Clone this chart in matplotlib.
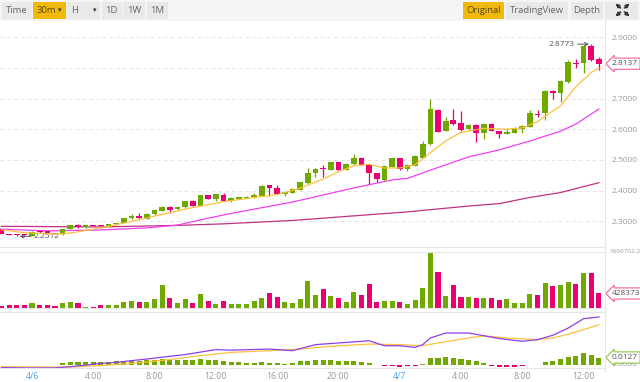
import numpy as np
import matplotlib.pyplot as plt
from matplotlib.patches import Rectangle
from matplotlib.lines import Line2D
from matplotlib.transforms import blended_transform_factory

plt.rcParams['font.family'] = ['Open Sans', 'DejaVu Sans']

W, H = 640, 382
GREEN = '#70a800'
PINK = '#ea0070'
GRAY_TXT = '#9a9a9a'
LINE = '#e6e6e6'

# 30m candles, 4/5 22:00 -> 4/7 13:00
opens = [2.274, 2.258, 2.257, 2.258, 2.254, 2.266, 2.269, 2.262, 2.258, 2.275,
         2.288, 2.281, 2.287, 2.286, 2.283, 2.290, 2.295, 2.310, 2.319, 2.309,
         2.323, 2.335, 2.348, 2.339, 2.346, 2.367, 2.351, 2.385, 2.373, 2.385,
         2.365, 2.373, 2.376, 2.378, 2.384, 2.418, 2.410, 2.389, 2.394, 2.402,
         2.424, 2.459, 2.471, 2.467, 2.492, 2.467, 2.486, 2.506, 2.484, 2.457,
         2.435, 2.478, 2.506, 2.470, 2.482, 2.508, 2.551, 2.663, 2.594, 2.630,
         2.620, 2.600, 2.614, 2.589, 2.617, 2.594, 2.585, 2.589, 2.600, 2.608,
         2.650, 2.652, 2.725, 2.719, 2.753, 2.816, 2.815, 2.871, 2.828]
closes = [2.260, 2.257, 2.256, 2.256, 2.266, 2.265, 2.262, 2.260, 2.275, 2.287,
          2.281, 2.287, 2.285, 2.284, 2.292, 2.294, 2.311, 2.319, 2.310, 2.325,
          2.337, 2.348, 2.337, 2.348, 2.366, 2.351, 2.385, 2.373, 2.388, 2.367,
          2.376, 2.378, 2.380, 2.386, 2.415, 2.408, 2.389, 2.397, 2.407, 2.427,
          2.457, 2.471, 2.470, 2.492, 2.467, 2.487, 2.507, 2.484, 2.457, 2.437,
          2.480, 2.506, 2.470, 2.484, 2.513, 2.551, 2.666, 2.592, 2.628, 2.616,
          2.598, 2.615, 2.589, 2.617, 2.595, 2.584, 2.592, 2.605, 2.611, 2.654,
          2.648, 2.725, 2.717, 2.758, 2.818, 2.814, 2.871, 2.826, 2.8137]
highs = [2.276, 2.259, 2.258, 2.259, 2.268, 2.268, 2.270, 2.263, 2.276, 2.289,
         2.291, 2.288, 2.289, 2.288, 2.293, 2.296, 2.312, 2.324, 2.326, 2.327,
         2.339, 2.350, 2.350, 2.350, 2.368, 2.369, 2.387, 2.387, 2.390, 2.392,
         2.380, 2.380, 2.382, 2.392, 2.417, 2.420, 2.418, 2.399, 2.409, 2.429,
         2.473, 2.473, 2.484, 2.494, 2.494, 2.489, 2.519, 2.511, 2.486, 2.459,
         2.482, 2.508, 2.508, 2.486, 2.515, 2.562, 2.698, 2.665, 2.639, 2.666,
         2.661, 2.618, 2.616, 2.619, 2.619, 2.596, 2.603, 2.607, 2.613, 2.663,
         2.663, 2.727, 2.727, 2.760, 2.826, 2.829, 2.873, 2.8773, 2.836]
lows = [2.258, 2.255, 2.2512, 2.254, 2.253, 2.263, 2.261, 2.258, 2.257, 2.274,
        2.280, 2.280, 2.284, 2.283, 2.282, 2.289, 2.294, 2.309, 2.309, 2.308,
        2.322, 2.334, 2.328, 2.338, 2.345, 2.350, 2.350, 2.372, 2.367, 2.366,
        2.364, 2.372, 2.375, 2.377, 2.383, 2.383, 2.388, 2.383, 2.393, 2.401,
        2.423, 2.446, 2.444, 2.466, 2.466, 2.466, 2.485, 2.483, 2.422, 2.429,
        2.433, 2.477, 2.469, 2.464, 2.481, 2.507, 2.550, 2.590, 2.593, 2.614,
        2.596, 2.598, 2.560, 2.567, 2.593, 2.571, 2.584, 2.588, 2.587, 2.607,
        2.639, 2.630, 2.699, 2.690, 2.752, 2.799, 2.782, 2.824, 2.793]
volumes = [48, 95, 95, 76, 143, 76, 76, 57, 143, 190,
           152, 38, 29, 76, 95, 76, 181, 209, 171, 171,
           257, 666, 286, 143, 257, 143, 409, 209, 124, 209,
           124, 124, 124, 209, 305, 457, 333, 190, 143, 257,
           809, 381, 571, 352, 286, 190, 476, 381, 695, 171,
           209, 209, 190, 114, 238, 590, 1660.7022, 1066, 352, 666,
           333, 333, 286, 286, 286, 238, 257, 143, 162, 400,
           381, 733, 638, 685, 780, 704, 1019, 1019, 428.373]  # thousands
macd_hist = [-0.0015, -0.0015, -0.0015, -0.0012, -0.0010, -0.0010, -0.0008, -0.0005, 0.0022, 0.0039,
             0.0039, 0.0050, 0.0050, 0.0050, 0.0050, 0.0066, 0.0066, 0.0066, 0.0066, 0.0077,
             0.0077, 0.0094, 0.0083, 0.0083, 0.0083, 0.0083, 0.0094, 0.0083, 0.0083, 0.0061,
             0.0050, 0.0039, 0.0028, 0.0033, 0.0039, 0.0033, 0.0028, 0.0017, 0.0022, 0.0055,
             0.0066, 0.0077, 0.0088, 0.0077, 0.0072, 0.0072, 0.0061, 0.0039, 0.0022, -0.0017,
             -0.0028, -0.0022, -0.0039, -0.0033, -0.0028, 0.0017, 0.0122, 0.0122, 0.0132, 0.0122,
             0.0099, 0.0083, 0.0055, 0.0028, -0.0028, -0.0039, -0.0039, -0.0039, -0.0028, -0.0017,
             -0.0011, 0.0037, 0.0057, 0.0098, 0.0139, 0.0153, 0.0202, 0.0176, 0.0127]

# moving average lines (candle index, value)
ma7_idx = [0, 3, 6, 8, 10, 13, 17, 21, 24, 26, 29, 33, 36, 39, 42, 44, 46, 48, 50, 52,
           54, 56, 58, 60, 63, 66, 68, 70, 72, 73, 75, 77, 78]
ma7_val = [2.273, 2.263, 2.260, 2.259, 2.266, 2.279, 2.300, 2.323, 2.340, 2.350, 2.364, 2.378,
           2.387, 2.408, 2.438, 2.462, 2.481, 2.486, 2.474, 2.474, 2.484, 2.524, 2.562, 2.590,
           2.603, 2.600, 2.605, 2.625, 2.660, 2.676, 2.739, 2.785, 2.799]
ma25_idx = [0, 6, 13, 19, 23, 26, 29, 33, 38, 42, 46, 51, 53, 56, 61, 65, 69, 73, 75, 78]
ma25_val = [2.275, 2.269, 2.272, 2.279, 2.288, 2.305, 2.321, 2.340, 2.363, 2.386, 2.409,
            2.435, 2.440, 2.467, 2.510, 2.533, 2.562, 2.594, 2.617, 2.666]
ma99_idx = [0, 13, 23, 29, 38, 46, 53, 61, 65, 69, 73, 78]
ma99_val = [2.284, 2.282, 2.287, 2.292, 2.303, 2.318, 2.331, 2.350, 2.358, 2.378, 2.394, 2.426]

dif_idx = [0, 4, 7, 9, 11, 13, 15, 19, 24, 28, 30, 35, 38, 41, 45, 48, 50, 52, 54, 55,
           56, 58, 61, 63, 65, 68, 70, 72, 74, 76, 78]
dif_val = [-0.0055, -0.0062, -0.0060, -0.0040, -0.0010, 0.0020, 0.0040, 0.0100, 0.0180, 0.0270,
           0.0260, 0.0280, 0.0250, 0.0360, 0.0400, 0.0430, 0.0340, 0.0340, 0.0310, 0.0360,
           0.0480, 0.0570, 0.0570, 0.0520, 0.0470, 0.0420, 0.0450, 0.0530, 0.0660, 0.0830, 0.0860]
dea_idx = [0, 6, 9, 13, 17, 22, 26, 30, 35, 39, 43, 48, 52, 55, 57, 61, 63, 66, 70, 72,
           74, 76, 78]
dea_val = [-0.0040, -0.0045, -0.0045, -0.0020, 0.0020, 0.0090, 0.0160, 0.0220, 0.0250, 0.0280,
           0.0330, 0.0370, 0.0360, 0.0340, 0.0390, 0.0480, 0.0520, 0.0480, 0.0450, 0.0480,
           0.0550, 0.0630, 0.0720]

price_ticks = [2.3, 2.4, 2.5, 2.6, 2.7, 2.8, 2.9]
time_pos = [4, 12, 20, 28, 36, 44, 52, 60, 68, 76]
time_labels = ['4/6', '4:00', '8:00', '12:00', '16:00', '20:00', '4/7', '4:00', '8:00', '12:00']
day_labels = ['4/6', '4/7']

left_buttons = [('Time', 1.7, 31.7, False), ('30m', 32.7, 65.7, True), ('H', 66.7, 100, False),
                ('1D', 101.7, 121.7, False), ('1W', 123.3, 145, False), ('1M', 146.7, 168.3, False)]
right_buttons = [('Original', 463.3, 504.3, True), ('TradingView', 506, 568.3, False),
                 ('Depth', 570.7, 603.3, False)]


def px_rect(x0, y0, x1, y1):
    return [x0 / W, 1 - y1 / H, (x1 - x0) / W, (y1 - y0) / H]


fig = plt.figure(figsize=(W / 100, H / 100), dpi=100)
fig.patch.set_facecolor('white')

ax = fig.add_axes(px_rect(0, 22, 605, 247))
vax = fig.add_axes(px_rect(0, 251.7, 605, 308), sharex=ax)
mx = fig.add_axes(px_rect(0, 312.3, 605, 368), sharex=ax)

n = len(opens)
idx = np.arange(n)
up = [c >= o for o, c in zip(opens, closes)]
colors = [GREEN if u else PINK for u in up]

# candles
ax.vlines(idx, lows, highs, colors=colors, lw=0.9, zorder=3)
body_bottom = [min(o, c) for o, c in zip(opens, closes)]
body_h = [max(abs(c - o), 0.003) for o, c in zip(opens, closes)]
ax.bar(idx, body_h, bottom=body_bottom, width=0.74, color=colors, zorder=4)

ax.plot(ma99_idx, ma99_val, color='#c2307f', lw=0.9, zorder=2)
ax.plot(ma25_idx, ma25_val, color='#f23ff0', lw=0.9, zorder=2)
ax.plot(ma7_idx, ma7_val, color='#fcc13d', lw=0.9, zorder=5)

ax.set_xlim(-0.18, 78.8)
ax.set_ylim(2.2166, 2.9495)
ax.yaxis.tick_right()
ax.set_yticks(price_ticks)
# 2.8000 sits under the last-price tag in the original
ax.set_yticklabels(['' if abs(p - 2.8) < 1e-9 else '%.4f' % p for p in price_ticks])
ax.tick_params(axis='y', length=0, pad=5, labelsize=6, labelcolor=GRAY_TXT)
ax.tick_params(axis='x', length=0, labelbottom=False)
for p in price_ticks:
    ax.axhline(p, color='#e4e4e4', lw=0.7, ls=(0, (4, 3)), zorder=0)

# high / low markers
ax.annotate('2.8773', xy=(76.7, 2.8773), xytext=(-10, 0), textcoords='offset points',
            ha='right', va='center', fontsize=6, color='#555555',
            arrowprops=dict(arrowstyle='->', color='#555555', lw=0.7, shrinkA=0, shrinkB=0))
ax.annotate('2.2512', xy=(2.4, 2.2512), xytext=(10, 0), textcoords='offset points',
            ha='left', va='center', fontsize=6, color='#555555',
            arrowprops=dict(arrowstyle='->', color='#555555', lw=0.7, shrinkA=0, shrinkB=0))

# volume
vax.bar(idx, volumes, width=0.66, color=colors)
vax.set_ylim(0, max(volumes))
vax.tick_params(axis='both', length=0, labelbottom=False, labelleft=False)

# macd
hist_colors = [GREEN if h >= 0 else PINK for h in macd_hist]
mx.bar(idx, macd_hist, width=0.66, color=hist_colors)
mx.plot(dea_idx, dea_val, color='#fcc13d', lw=0.9)
mx.plot(dif_idx, dif_val, color='#8e3ee8', lw=0.9)
mx.set_ylim(-0.0063, 0.0945)
mx.tick_params(axis='y', length=0, labelleft=False)
mx.set_xticks(time_pos)
mx.set_xticklabels(time_labels)
mx.tick_params(axis='x', length=0, pad=3, labelsize=6.3)
for lab in mx.get_xticklabels():
    lab.set_color('#4d9de0' if lab.get_text() in day_labels else GRAY_TXT)

for a in (ax, vax, mx):
    a.set_facecolor('none')
    a.spines['left'].set_visible(False)
    a.spines['right'].set_visible(False)
    for s in ('top', 'bottom'):
        a.spines[s].set_color(LINE)
        a.spines[s].set_linewidth(0.8)
ax.spines['top'].set_visible(False)

# price-axis separator running through all panes
fig.add_artist(Line2D([605 / W, 605 / W], [1 - 371 / H, 1 - 21 / H], color=LINE, lw=0.8))


# right side labels
def side_label(a, y, text, ec):
    tr = blended_transform_factory(fig.transFigure, a.transData)
    a.text(612 / W, y, text, transform=tr, ha='left', va='center', fontsize=6,
           color='#555555', clip_on=False, zorder=10,
           bbox=dict(boxstyle='larrow,pad=0.25', fc='white', ec=ec, lw=0.8))


side_label(ax, closes[-1], '%.4f' % closes[-1], '#f0609e')
side_label(vax, volumes[-1], '%d' % round(volumes[-1] * 1000), '#f0609e')
tr = blended_transform_factory(fig.transFigure, mx.transData)
mx.text(612 / W, 0.0, '0.0000', transform=tr, ha='left', va='center', fontsize=6,
        color=GRAY_TXT, clip_on=False)
side_label(mx, macd_hist[-1], '%.4f' % macd_hist[-1], '#8cc63f')
tr = blended_transform_factory(fig.transFigure, vax.transAxes)
vax.text(609 / W, 1.0, '%.1f' % (max(volumes) * 1000), transform=tr, ha='left', va='center',
         fontsize=4.6, color=GRAY_TXT, clip_on=False)

# toolbar
tb = fig.add_axes([0, 1 - 20.5 / H, 1, 20.5 / H])
tb.set_xlim(0, W)
tb.set_ylim(20.5, 0)
tb.axis('off')
tb.add_patch(Rectangle((0, 0), W, 20.5, fc='#f5f5f5', ec='none'))
for label, x0, x1, active in left_buttons + right_buttons:
    tb.add_patch(Rectangle((x0, 1.5), x1 - x0, 17.5, fc='#f0b90b' if active else '#e9e9e9', ec='none'))
    cx = (x0 + x1) / 2
    if label in ('30m', 'H'):
        tb.text(x0 + 4 if label == 'H' else cx - 3, 10.3, label, ha='left' if label == 'H' else 'center',
                va='center', fontsize=6.8, color='#5a4a1a' if active else '#666666')
        tb.text(x1 - 5.5, 10.3, '\u25be', ha='center', va='center', fontsize=5, color='#333333')
    else:
        tb.text(cx, 10.3, label, ha='center', va='center', fontsize=6.8,
                color='#5a4a1a' if active else '#666666')
tb.add_patch(Rectangle((605, 1.5), 33, 17.5, fc='#e9e9e9', ec='none'))
cx, cy = 622.5, 10
for dx, dy in [(-1, -1), (1, -1), (-1, 1), (1, 1)]:
    tb.annotate('', xy=(cx + 7 * dx, cy + 6.5 * dy), xytext=(cx + 2 * dx, cy + 2 * dy),
                arrowprops=dict(arrowstyle='-|>', color='#333333', lw=1.2, mutation_scale=5,
                                shrinkA=0, shrinkB=0))

fig.savefig('out.png', dpi=100)
